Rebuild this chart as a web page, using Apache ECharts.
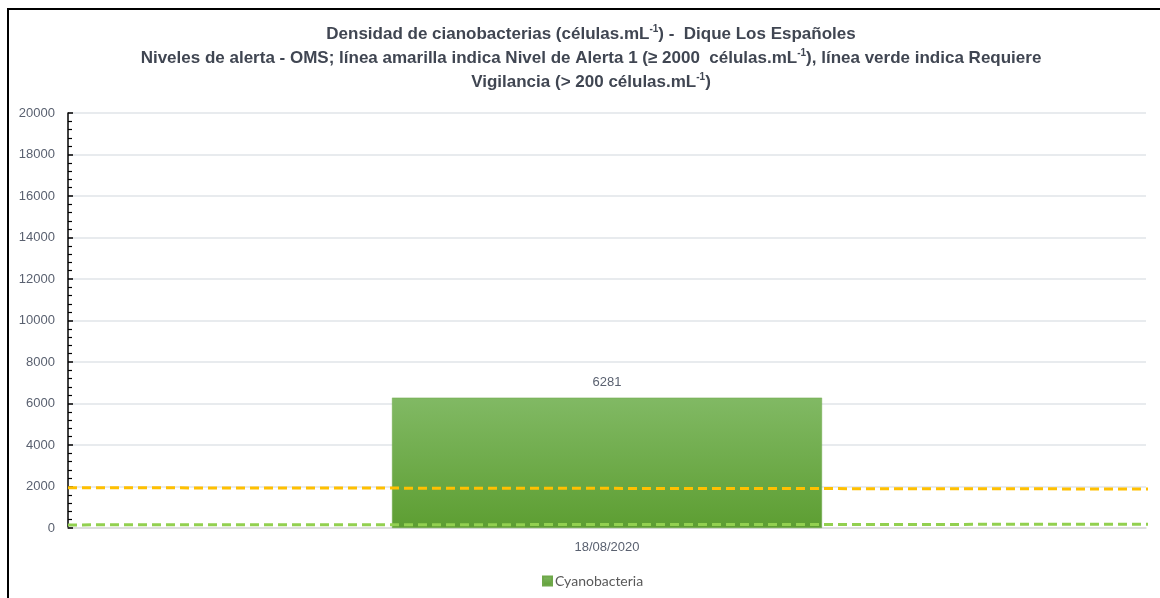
<!DOCTYPE html>
<html>
<head>
<meta charset="utf-8">
<script src="https://cdn.jsdelivr.net/npm/echarts@6/dist/echarts.min.js"></script>
<style>
  html, body { margin: 0; padding: 0; background: #fff; }
  #chart { width: 1160px; height: 598px; }
</style>
</head>
<body>
<div id="chart"></div>
<script>
  // data
  var fechas = ['18/08/2020'];
  var cyanobacteria = [6281];
  var yTicks = [0, 20000, 2000];
  // threshold lines (left end, right end), drawn on a hidden 0..1 x axis
  var lineX = [0, 1.013];
  var alerta1 = [1940, 1880];
  var vigilancia = [150, 180];

  var chartDom = document.getElementById('chart');
  var myChart = echarts.init(chartDom);
  var option;

  var tFont = '"Liberation Sans Narrow", "Arial Narrow", "Liberation Sans", sans-serif';
  var tColor = '#404652';

  option = {
    animation: false,
    title: {
      left: 586,
      top: 17,
      textAlign: 'center',
      text: '{b|Densidad de cianobacterias (células.mL}{s|-1}{b|) -  Dique Los Españoles}\n' +
            '{b|Niveles de alerta - OMS; línea amarilla indica Nivel de Alerta 1 (≥ 2000  células.mL}{s|-1}{b|), línea verde indica Requiere}\n' +
            '{b|Vigilancia (> 200 células.mL}{s|-1}{b|)}',
      textStyle: {
        rich: {
          b: { fontFamily: tFont, fontWeight: 'bold', fontSize: 17, color: tColor, lineHeight: 24 },
          s: { fontFamily: tFont, fontWeight: 'bold', fontSize: 10, color: tColor, lineHeight: 24, padding: [0, 0, 9, 0] }
        }
      }
    },
    legend: {
      top: 569,
      left: 537,
      itemWidth: 9,
      itemHeight: 9,
      itemGap: 4,
      data: [{ name: 'Cyanobacteria', icon: 'rect' }],
      textStyle: { fontFamily: 'Lato, "Open Sans", sans-serif', fontSize: 14, color: '#595959', padding: [0, 0, 0, -2] }
    },
    grid: { left: 68, right: 14, top: 113, bottom: 70 },
    xAxis: [
      {
        type: 'category',
        data: fechas,
        axisLine: { lineStyle: { color: '#d9d9d9', width: 1.5 } },
        axisTick: { show: false },
        axisLabel: { fontFamily: tFont, fontSize: 13, color: '#5a6170', margin: 13 }
      },
      { type: 'value', min: 0, max: 1, show: false }
    ],
    yAxis: {
      type: 'value',
      min: yTicks[0],
      max: yTicks[1],
      interval: yTicks[2],
      axisLine: { show: true, lineStyle: { color: '#000', width: 1.5 } },
      axisTick: { show: true, inside: true, length: 5, lineStyle: { color: '#000', width: 1.5 } },
      minorTick: { show: true, splitNumber: 5, length: 4, lineStyle: { color: '#000', width: 1.2 } },
      axisLabel: {
        fontFamily: tFont, fontSize: 13, color: '#5a6170', margin: 13,
        formatter: function (v) { return String(v); }
      },
      splitLine: { lineStyle: { color: '#e1e4e8', width: 1.5 } }
    },
    series: [
      {
        name: 'Cyanobacteria',
        type: 'bar',
        barWidth: 430,
        data: cyanobacteria,
        itemStyle: {
          color: new echarts.graphic.LinearGradient(0, 0, 0, 1, [
            { offset: 0, color: '#81b964' },
            { offset: 1, color: '#5d9e32' }
          ]),
          borderColor: '#6fa84a',
          borderWidth: 0.5
        },
        label: {
          show: true,
          position: 'top',
          distance: 9,
          fontFamily: tFont,
          fontSize: 13,
          color: '#5a6170'
        },
        z: 2
      },
      {
        name: 'Alerta 1',
        type: 'line',
        xAxisIndex: 1,
        data: lineX.map(function (x, i) { return [x, alerta1[i]]; }),
        symbol: 'none',
        clip: false,
        lineStyle: { color: '#ffc000', width: 3, type: [9, 5] },
        z: 5
      },
      {
        name: 'Vigilancia',
        type: 'line',
        xAxisIndex: 1,
        data: lineX.map(function (x, i) { return [x, vigilancia[i]]; }),
        symbol: 'none',
        clip: false,
        lineStyle: { color: '#92d050', width: 3, type: [9, 5] },
        z: 5
      }
    ],
    graphic: [
      {
        type: 'polyline',
        shape: { points: [[8, 598], [8, 9], [1160, 9]] },
        style: { stroke: '#000', lineWidth: 2, fill: null },
        silent: true
      }
    ]
  };
  option && myChart.setOption(option);
</script>
</body>
</html>
